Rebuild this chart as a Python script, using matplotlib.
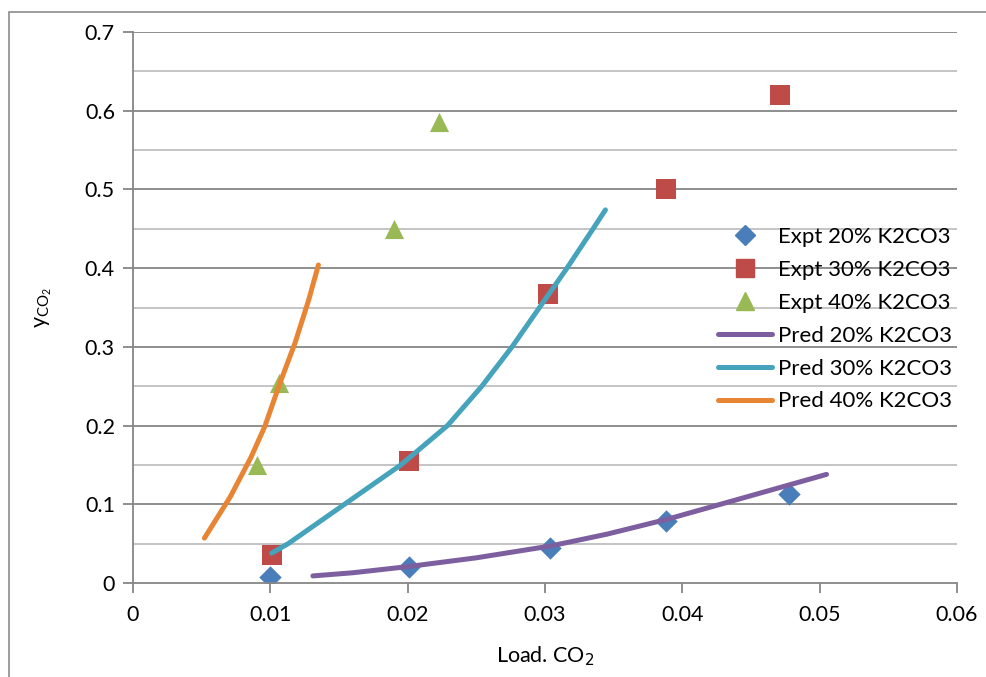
import matplotlib
matplotlib.use("Agg")
import matplotlib.pyplot as plt
from matplotlib.patches import Rectangle
from matplotlib.lines import Line2D

plt.rcParams['font.family'] = ['Lato', 'DejaVu Sans']

# Experimental data
expt20_x = [0.0100, 0.0201, 0.0304, 0.0388, 0.0478]
expt20_y = [0.008, 0.020, 0.045, 0.079, 0.113]
expt30_x = [0.0101, 0.0201, 0.0302, 0.0388, 0.0471]
expt30_y = [0.036, 0.155, 0.367, 0.501, 0.620]
expt40_x = [0.0090, 0.0106, 0.0190, 0.0223]
expt40_y = [0.150, 0.254, 0.450, 0.586]

# Predicted curves
pred20_x = [0.0131, 0.016, 0.0201, 0.025, 0.0304, 0.0345, 0.0389, 0.044, 0.0505]
pred20_y = [0.009, 0.013, 0.021, 0.032, 0.047, 0.062, 0.081, 0.106, 0.138]
pred30_x = [0.0101, 0.0113, 0.0154, 0.0195, 0.0229, 0.0254, 0.0276, 0.0296, 0.0316, 0.0335, 0.0344]
pred30_y = [0.038, 0.050, 0.100, 0.150, 0.200, 0.250, 0.300, 0.350, 0.400, 0.450, 0.474]
pred40_x = [0.0052, 0.0071, 0.0086, 0.0096, 0.0107, 0.0118, 0.0128, 0.0135]
pred40_y = [0.057, 0.110, 0.160, 0.199, 0.254, 0.305, 0.360, 0.404]

x_ticks = [0, 0.01, 0.02, 0.03, 0.04, 0.05, 0.06]
x_ticklabels = ['0', '0.01', '0.02', '0.03', '0.04', '0.05', '0.06']
y_ticks = [0, 0.1, 0.2, 0.3, 0.4, 0.5, 0.6, 0.7]
y_ticklabels = ['0', '0.1', '0.2', '0.3', '0.4', '0.5', '0.6', '0.7']
y_minor = [0.05, 0.15, 0.25, 0.35, 0.45, 0.55, 0.65]

c_blue = '#4A7EBB'
c_red = '#BE4B48'
c_green = '#98B954'
c_purple = '#7D5FA0'
c_teal = '#46A3BC'
c_orange = '#E88534'
grid_major = '#868686'
grid_minor = '#BFBFBF'

FS = 15.5
LW = 3.6

fig = plt.figure(figsize=(9.87, 6.77), dpi=100)
fig.patches.append(Rectangle((9/987, -0.5), 2.0, 0.5 + 1 - 12/677, transform=fig.transFigure,
                             fill=False, edgecolor='#8C8C8C', linewidth=1.2, zorder=0))
ax = fig.add_axes([133/987, 1 - 583/677, (957-133)/987, (583-32)/677])

ax.set_xlim(0, 0.06)
ax.set_ylim(0, 0.7)

for yv in y_minor:
    ax.axhline(yv, color=grid_minor, linewidth=1.3, zorder=1)
for yv in y_ticks[1:]:
    ax.axhline(yv, color=grid_major, linewidth=1.3, zorder=1)

ax.plot(pred20_x, pred20_y, color=c_purple, linewidth=LW, solid_capstyle='round',
        solid_joinstyle='round', zorder=3)
ax.plot(pred30_x, pred30_y, color=c_teal, linewidth=LW, solid_capstyle='round',
        solid_joinstyle='round', zorder=3)
ax.plot(pred40_x, pred40_y, color=c_orange, linewidth=LW, solid_capstyle='round',
        solid_joinstyle='round', zorder=3)

ax.scatter(expt20_x, expt20_y, marker='D', s=130, color=c_blue, zorder=2, linewidths=0)
ax.scatter(expt30_x, expt30_y, marker='s', s=200, color=c_red, zorder=2, linewidths=0)
ax.scatter(expt40_x, expt40_y, marker='^', s=190, color=c_green, zorder=2, linewidths=0)

for s in ['top', 'right']:
    ax.spines[s].set_visible(False)
for s in ['left', 'bottom']:
    ax.spines[s].set_color(grid_major)
    ax.spines[s].set_linewidth(1.3)

ax.set_xticks(x_ticks)
ax.set_xticklabels(x_ticklabels)
ax.set_yticks(y_ticks)
ax.set_yticklabels(y_ticklabels)
ax.tick_params(axis='both', direction='out', length=7, width=1.3, color=grid_major,
               labelsize=FS, labelcolor='black')
ax.tick_params(axis='x', pad=9)
ax.tick_params(axis='y', pad=6)

ax.set_xlabel('Load. CO$_2$', fontsize=FS, labelpad=14)
ax.set_ylabel('y$_{\\mathregular{CO_2}}$', fontsize=FS, labelpad=22)

handles = [
    Line2D([], [], marker='D', color=c_blue, linestyle='none', markersize=10.5),
    Line2D([], [], marker='s', color=c_red, linestyle='none', markersize=13),
    Line2D([], [], marker='^', color=c_green, linestyle='none', markersize=13),
    Line2D([], [], color=c_purple, linewidth=LW, solid_capstyle='round'),
    Line2D([], [], color=c_teal, linewidth=LW, solid_capstyle='round'),
    Line2D([], [], color=c_orange, linewidth=LW, solid_capstyle='round'),
]
labels = ['Expt 20% K2CO3', 'Expt 30% K2CO3', 'Expt 40% K2CO3',
          'Pred 20% K2CO3', 'Pred 30% K2CO3', 'Pred 40% K2CO3']
leg = ax.legend(handles, labels, loc='upper left', bbox_to_anchor=((718-133)/824, (583-227)/551),
                frameon=False, fontsize=FS + 0.5, handlelength=2.45, handletextpad=0.25,
                labelspacing=0.58, borderaxespad=0, borderpad=0)
leg.set_zorder(5)

fig.savefig('out.png', dpi=100)
